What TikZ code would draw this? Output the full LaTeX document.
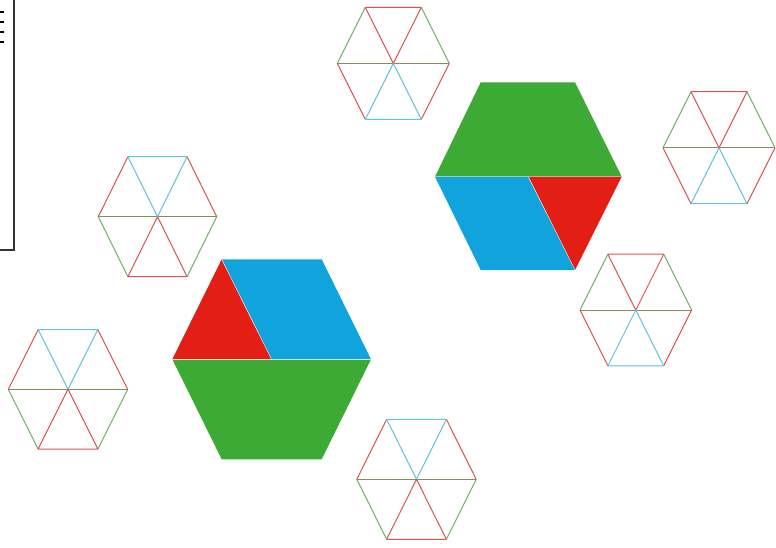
\documentclass[tikz,border=0pt]{standalone}
\definecolor{hred}{RGB}{227,30,20}
\definecolor{hblue}{RGB}{17,163,220}
\definecolor{hgreen}{RGB}{61,170,53}
\definecolor{lred}{RGB}{222,80,82}
\definecolor{lblue}{RGB}{95,195,225}
\definecolor{lgreen}{RGB}{110,178,100}
\definecolor{lolive}{RGB}{135,140,80}
\tikzset{
  thinline/.style={line width=1pt},
  piece/.style={draw=white, line width=0.4pt, line join=round},
  framebox/.style={draw=black!80, line width=1.6pt},
}
\newcommand\smallhexagon[5]{%
\begin{scope}[shift={(#1,#2)},yscale=#5]
  \coordinate (C) at (0,0);
  \coordinate (L) at (-#3,0);
  \coordinate (R) at (#3,0);
  \coordinate (TL) at (-#3/2,-#4);
  \coordinate (TR) at (#3/2,-#4);
  \coordinate (BL) at (-#3/2,#4);
  \coordinate (BR) at (#3/2,#4);
  \draw[thinline,lgreen] (L)--(BL) (R)--(BR);
  \draw[thinline,lolive] (L)--(R);
  \draw[thinline,lred] (L)--(TL) (R)--(TR) (C)--(BL) (C)--(BR) (BL)--(BR);
  \draw[thinline,lblue] (TL)--(TR) (C)--(TL) (C)--(TR);
\end{scope}}
\begin{document}
\begin{tikzpicture}[x=1pt,y=-1pt]
\useasboundingbox (0,0) rectangle (776,547);
\fill[white] (0,0) rectangle (776,547);
% partial frame at top left
\draw[framebox] (-5,250) -- (14,250) -- (14,-5);
\foreach \yy in {12.3,22.3,32.3,42.3}
  \draw[black, line width=1.8pt] (-1,\yy) -- (4,\yy);
% big hexagon left
\begin{scope}
  \coordinate (aL) at (172.3,359.3);
  \coordinate (aTL) at (221.7,259.3);
  \coordinate (aTR) at (321.7,259.3);
  \coordinate (aR) at (371,359.3);
  \coordinate (aBR) at (321.7,459.3);
  \coordinate (aBL) at (221.7,459.3);
  \coordinate (aC) at (271.5,359.3);
  \fill[hgreen] (aL)--(aR)--(aBR)--(aBL)--cycle;
  \fill[hblue] (aTL)--(aTR)--(aR)--(aC)--cycle;
  \fill[hred] (aTL)--(aC)--(aL)--cycle;
  \draw[piece] (aL)--(aR) (aTL)--(aC);
\end{scope}
% big hexagon right
\begin{scope}
  \coordinate (bL) at (435,176.7);
  \coordinate (bTL) at (480.7,82.3);
  \coordinate (bTR) at (575,82.3);
  \coordinate (bR) at (621.7,176.7);
  \coordinate (bBR) at (575,270);
  \coordinate (bBL) at (480.7,270);
  \coordinate (bC) at (528.3,176.7);
  \fill[hgreen] (bL)--(bTL)--(bTR)--(bR)--cycle;
  \fill[hblue] (bL)--(bC)--(bBR)--(bBL)--cycle;
  \fill[hred] (bC)--(bR)--(bBR)--cycle;
  \draw[piece] (bL)--(bR) (bC)--(bBR);
\end{scope}
% small hexagons
\smallhexagon{157.5}{216.7}{59.2}{60}{1}
\smallhexagon{68}{389.3}{59.7}{59.7}{1}
\smallhexagon{416.5}{479.3}{59.7}{60}{1}
\smallhexagon{393.3}{63.3}{56}{56}{-1}
\smallhexagon{719}{147.7}{56}{56}{-1}
\smallhexagon{635.8}{310}{55.8}{55.8}{-1}
\end{tikzpicture}
\end{document}
